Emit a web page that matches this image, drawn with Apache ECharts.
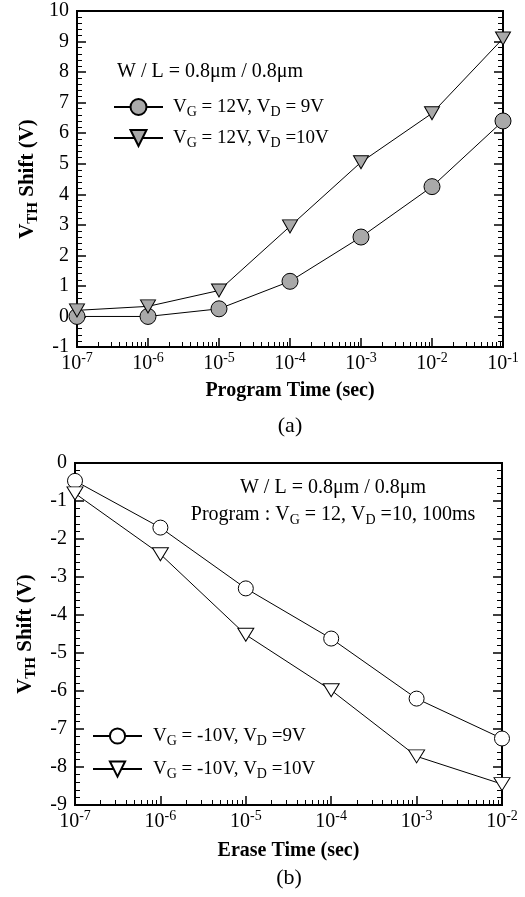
<!DOCTYPE html>
<html>
<head>
<meta charset="utf-8">
<script src="https://cdn.jsdelivr.net/npm/echarts@6/dist/echarts.min.js"></script>
<style>
  html, body { margin: 0; padding: 0; background: #fff; }
  #chart { width: 525px; height: 897px; }
</style>
</head>
<body>
<div id="chart"></div>
<script>
// (a) program
const progTimes = [1e-7, 1e-6, 1e-5, 1e-4, 1e-3, 1e-2, 1e-1];
const progVd9 = [0, 0, 0.25, 1.15, 2.6, 4.25, 6.4];
const progVd10 = [0.2, 0.33, 0.85, 2.95, 5.05, 6.65, 9.1];
// (b) erase
const eraseTimes = [1e-7, 1e-6, 1e-5, 1e-4, 1e-3, 1e-2];
const eraseVd9 = [-0.47, -1.7, -3.3, -4.62, -6.2, -7.25];
const eraseVd10 = [-0.8, -2.4, -4.52, -5.98, -7.72, -8.45];

const FONT = '"Liberation Serif", "DejaVu Serif", serif';
const TRI = 'path://M0,0L20,0L10,17Z';

// minor tick positions of a log decade axis (exponent space)
function minorTicks(lo, hi) {
  const out = [];
  for (let n = lo; n < hi; n++) {
    for (let k = 2; k <= 9; k++) out.push(n + Math.log10(k));
  }
  return out;
}
function pts(times, vals) {
  return times.map((t, i) => [Math.log10(t), vals[i]]);
}

const legendNames = {
  a9: '{n|V}{s|G}{n| = 12V, V}{s|D}{n| = 9V}',
  a10: '{n|V}{s|G}{n| = 12V, V}{s|D}{n| =10V}',
  b9: '{n|V}{s|G}{n| = -10V, V}{s|D}{n| =9V}',
  b10: '{n|V}{s|G}{n| = -10V, V}{s|D}{n| =10V}'
};
const subRich = {
  n: { fontFamily: FONT, fontSize: 19, color: '#000', lineHeight: 20 },
  s: { fontFamily: FONT, fontSize: 14, color: '#000', lineHeight: 14, padding: [10, 0, 0, 0] }
};

function xMain(grid, lo, hi, name, gap) {
  return {
    gridIndex: grid, type: 'value', min: lo, max: hi, interval: 1, position: 'bottom',
    name: name, nameLocation: 'middle', nameGap: gap,
    nameTextStyle: { fontFamily: FONT, fontSize: 20, fontWeight: 'bold', color: '#000' },
    axisLine: { show: true, onZero: false, lineStyle: { color: '#000', width: 2 } },
    axisTick: { show: true, inside: true, length: 9, lineStyle: { color: '#000', width: 1.5 } },
    axisLabel: {
      margin: 7,
      formatter: v => '{b|10}{s|' + v + '}',
      rich: {
        b: { fontFamily: FONT, fontSize: 20, color: '#000', lineHeight: 20 },
        s: { fontFamily: FONT, fontSize: 14, color: '#000', lineHeight: 14, padding: [0, 0, 12, 0] }
      }
    },
    splitLine: { show: false }
  };
}
function xMinor(grid, lo, hi) {
  return {
    gridIndex: grid, type: 'value', min: lo, max: hi, position: 'bottom',
    axisLine: { show: false, onZero: false },
    axisLabel: { show: false },
    splitLine: { show: false },
    axisTick: { show: true, inside: true, length: 5, customValues: minorTicks(lo, hi),
      lineStyle: { color: '#000', width: 1 } }
  };
}
function yAx(grid, lo, hi, pos, withLabels) {
  const ax = {
    gridIndex: grid, type: 'value', min: lo, max: hi, interval: 1, position: pos,
    axisLine: { show: true, onZero: false, lineStyle: { color: '#000', width: 2 } },
    axisTick: { show: true, inside: true, length: 9, lineStyle: { color: '#000', width: 1.5 } },
    minorTick: { show: true, splitNumber: 5, length: 5, lineStyle: { color: '#000', width: 1 } },
    axisLabel: { show: withLabels, margin: 8, fontFamily: FONT, fontSize: 20, color: '#000' },
    splitLine: { show: false }
  };
  if (withLabels) {
    ax.name = '{b|V}{sub|TH}{b| Shift (V)}';
    ax.nameLocation = 'middle';
    ax.nameGap = 38;
    ax.nameMoveOverlap = false;
    ax.nameTextStyle = {
      rich: {
        b: { fontFamily: FONT, fontSize: 21, fontWeight: 'bold', color: '#000', lineHeight: 22 },
        sub: { fontFamily: FONT, fontSize: 15, fontWeight: 'bold', color: '#000', lineHeight: 15, padding: [10, 0, 0, 0] }
      }
    };
  }
  return ax;
}
function series(name, xi, yi, data, symbol, size, fill) {
  return {
    name: name, type: 'line', xAxisIndex: xi, yAxisIndex: yi,
    data: data, symbol: symbol, symbolSize: size, clip: false,
    lineStyle: { color: '#000', width: 1 },
    itemStyle: { color: fill, borderColor: '#000', borderWidth: 1 },
    emphasis: { disabled: true }, z: 5
  };
}

const chart = echarts.init(document.getElementById('chart'), null, { renderer: 'canvas' });
chart.setOption({
  animation: false,
  backgroundColor: '#fff',
  grid: [
    { left: 77, top: 11, width: 426, height: 336, show: true, borderColor: '#000', borderWidth: 2, outerBoundsMode: 'none', containLabel: false },
    { left: 75, top: 463, width: 427, height: 342, show: true, borderColor: '#000', borderWidth: 2, outerBoundsMode: 'none', containLabel: false }
  ],
  xAxis: [
    xMain(0, -7, -1, 'Program Time (sec)', 34),
    xMinor(0, -7, -1),
    xMain(1, -7, -2, 'Erase Time (sec)', 36),
    xMinor(1, -7, -2)
  ],
  yAxis: [
    yAx(0, -1, 10, 'left', true),
    yAx(0, -1, 10, 'right', false),
    yAx(1, -9, 0, 'left', true),
    yAx(1, -9, 0, 'right', false)
  ],
  legend: [
    {
      data: ['a9', 'a10'], orient: 'vertical', left: 108, top: 90,
      itemWidth: 49, itemHeight: 20, itemGap: 7,
      formatter: n => legendNames[n],
      textStyle: { rich: subRich, padding: [0, 0, 0, 5] },
      selectedMode: false
    },
    {
      data: ['b9', 'b10'], orient: 'vertical', left: 87, top: 719,
      itemWidth: 49, itemHeight: 19, itemGap: 9,
      formatter: n => legendNames[n],
      textStyle: { rich: subRich, padding: [0, 0, 0, 6] },
      selectedMode: false
    }
  ],
  graphic: [
    { type: 'text', x: 117, y: 72, style: { text: 'W / L = 0.8\u03bcm / 0.8\u03bcm', fontFamily: FONT, fontSize: 20, fill: '#000', align: 'left', verticalAlign: 'middle' } },
    { type: 'text', x: 290, y: 426, style: { text: '(a)', fontFamily: FONT, fontSize: 22, fill: '#000', align: 'center', verticalAlign: 'middle' } },
    { type: 'text', x: 333, y: 488, style: { text: 'W / L = 0.8\u03bcm / 0.8\u03bcm', fontFamily: FONT, fontSize: 20, fill: '#000', align: 'center', verticalAlign: 'middle' } },
    { type: 'text', x: 333, y: 515, style: { text: '{n|Program : V}{s|G}{n| = 12, V}{s|D}{n| =10, 100ms}', rich: {
        n: { fontFamily: FONT, fontSize: 20, fill: '#000', lineHeight: 20 },
        s: { fontFamily: FONT, fontSize: 14, fill: '#000', lineHeight: 14, padding: [10, 0, 0, 0] } },
        align: 'center', verticalAlign: 'middle' } },
    { type: 'text', x: 289, y: 878, style: { text: '(b)', fontFamily: FONT, fontSize: 22, fill: '#000', align: 'center', verticalAlign: 'middle' } }
  ],
  series: [
    series('a9', 0, 0, pts(progTimes, progVd9), 'circle', 16, '#a9a9a9'),
    series('a10', 0, 0, pts(progTimes, progVd10), TRI, [15, 13], '#a9a9a9'),
    series('b9', 2, 2, pts(eraseTimes, eraseVd9), 'circle', 15, '#fff'),
    series('b10', 2, 2, pts(eraseTimes, eraseVd10), TRI, [16, 13], '#fff')
  ]
});
</script>
</body>
</html>
